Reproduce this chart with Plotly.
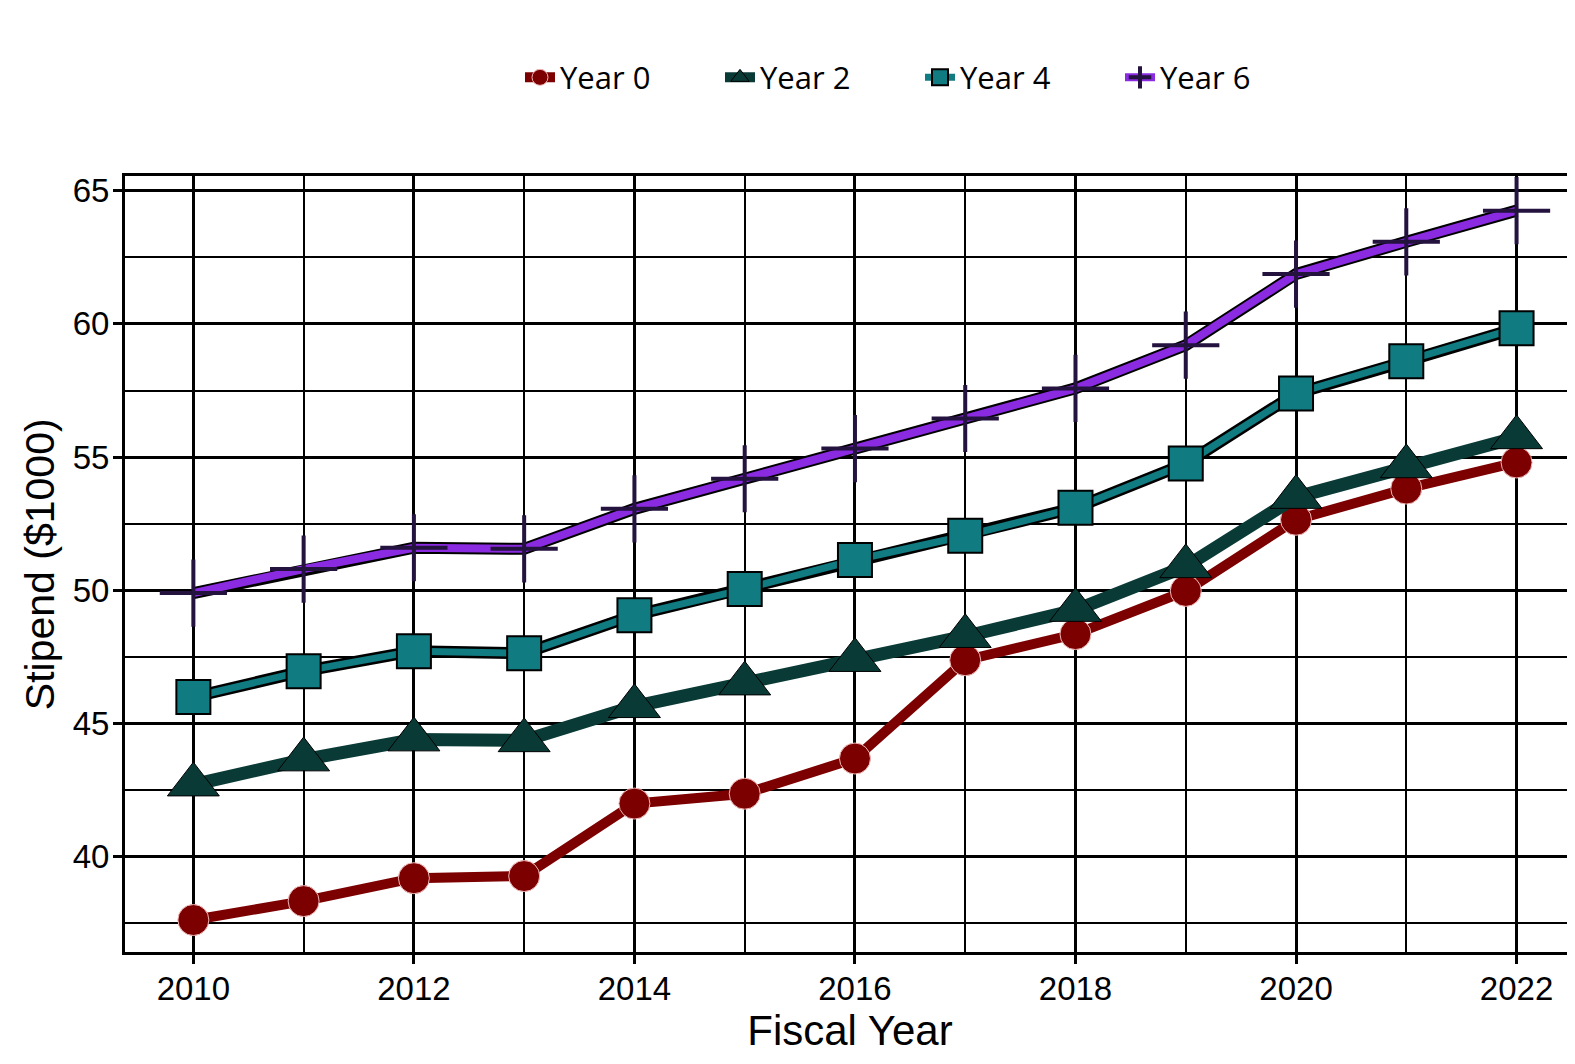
import plotly.graph_objects as go

years = list(range(2010, 2023))
year0 = [37.63, 38.34, 39.20, 39.28, 42.00, 42.37, 43.69, 47.38, 48.36, 49.98, 52.65, 53.82, 54.80]
year2 = [42.71, 43.65, 44.40, 44.37, 45.65, 46.50, 47.38, 48.28, 49.26, 50.90, 53.50, 54.65, 55.74]
year4 = [46.00, 46.97, 47.72, 47.64, 49.07, 50.05, 51.14, 52.05, 53.10, 54.76, 57.39, 58.60, 59.84]
year6 = [49.90, 50.80, 51.60, 51.56, 53.06, 54.19, 55.32, 56.45, 57.58, 59.20, 61.87, 63.08, 64.25]
x_ticks = [2010, 2012, 2014, 2016, 2018, 2020, 2022]
y_ticks = [40, 45, 50, 55, 60, 65]

fig = go.Figure()

# Year 0
fig.add_trace(go.Scatter(x=years, y=year0, name="Year 0", mode="lines+markers",
                         line=dict(color="#7d0000", width=10),
                         marker=dict(symbol="circle", size=31, color="#7d0000",
                                     line=dict(color="#f0b8b8", width=1))))
# Year 2
fig.add_trace(go.Scatter(x=years, y=year2, name="Year 2", mode="lines+markers",
                         line=dict(color="#0a3a36", width=13),
                         marker=dict(symbol="triangle-up", size=45, color="#0a3a36",
                                     line=dict(color="#000000", width=1))))
# Year 4 outline + line
fig.add_trace(go.Scatter(x=years, y=year4, mode="lines", showlegend=False, hoverinfo="skip",
                         line=dict(color="#000000", width=12)))
fig.add_trace(go.Scatter(x=years, y=year4, name="Year 4", mode="lines+markers",
                         line=dict(color="#107b80", width=7),
                         marker=dict(symbol="square", size=34, color="#107b80",
                                     line=dict(color="#000000", width=2))))
# Year 6 outline + line
fig.add_trace(go.Scatter(x=years, y=year6, mode="lines", showlegend=False, hoverinfo="skip",
                         line=dict(color="#000000", width=12)))
fig.add_trace(go.Scatter(x=years, y=year6, name="Year 6", mode="lines+markers",
                         line=dict(color="#8a2be2", width=8),
                         marker=dict(symbol="cross-thin", size=48, color="#24123f",
                                     line=dict(color="#24123f", width=4))))

fig.update_layout(
    width=1567, height=1056,
    paper_bgcolor="white", plot_bgcolor="white",
    margin=dict(l=117, r=0, t=168, b=112, autoexpand=False),
    font=dict(family="Liberation Sans, Arial, sans-serif", color="black"),
    legend=dict(orientation="h", xref="container", yref="container",
                x=0.582, y=0.934, xanchor="center", yanchor="middle",
                font=dict(family="Open Sans, sans-serif", size=31, color="black"),
                entrywidth=155, entrywidthmode="pixels",
                itemsizing="trace", traceorder="normal", bgcolor="rgba(0,0,0,0)"),
    showlegend=True,
    annotations=[dict(text="Stipend ($1000)", xref="paper", yref="paper",
                      x=-0.0585, y=0.5, xanchor="center", yanchor="middle",
                      textangle=-90, showarrow=False,
                      font=dict(size=41, color="black",
                                family="Liberation Sans, Arial, sans-serif"))],
)

fig.update_xaxes(
    range=[2009.38, 2022.53], tickvals=x_ticks, ticktext=[str(v) for v in x_ticks],
    tickfont=dict(size=33, color="black"),
    ticks="outside", ticklen=9, tickwidth=3, tickcolor="black",
    ticklabelstandoff=-4,
    showgrid=True, gridcolor="black", gridwidth=3,
    minor=dict(dtick=1, tick0=2010, showgrid=True, gridcolor="black", gridwidth=2),
    showline=True, linecolor="black", linewidth=3, mirror=True,
    zeroline=False, automargin=False,
    title=dict(text="Fiscal Year", font=dict(size=42, color="black"), standoff=2),
)
fig.update_yaxes(
    range=[36.43, 65.55], tickvals=y_ticks, ticktext=[str(v) for v in y_ticks],
    tickfont=dict(size=33, color="black"),
    ticks="outside", ticklen=9, tickwidth=3, tickcolor="black",
    ticklabelstandoff=-3,
    showgrid=True, gridcolor="black", gridwidth=3,
    minor=dict(dtick=2.5, tick0=37.5, showgrid=True, gridcolor="black", gridwidth=2),
    showline=True, linecolor="black", linewidth=3,
    zeroline=False, automargin=False,
)

fig.write_html("out.html")
